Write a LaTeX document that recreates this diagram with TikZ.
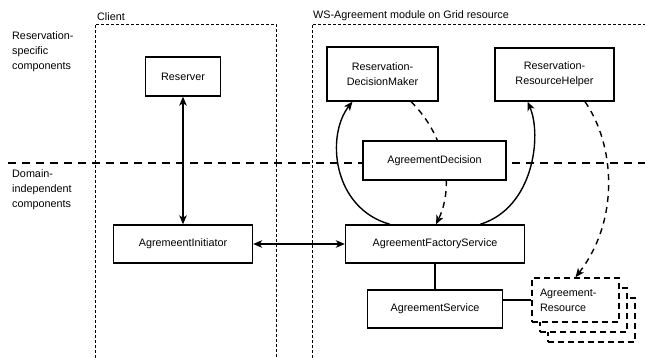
\documentclass[tikz,border=0pt]{standalone}
\usepackage{fontspec}
\setmainfont{Liberation Sans}
\usetikzlibrary{arrows.meta}

\tikzset{
  >={Stealth[length=9pt,width=7.5pt,inset=2.5pt]},
  txt/.style={inner sep=2pt, align=left, font=\fontsize{10.8}{15}\selectfont},
  comp/.style={draw, line width=1.3pt, fill=white, inner sep=2pt, align=center,
    font=\fontsize{10.8}{15}\selectfont},
  region/.style={line width=0.8pt, dash pattern=on 3pt off 2pt},
  layer/.style={line width=1.4pt, dash pattern=on 8pt off 6pt},
  link/.style={line width=1.4pt},
  dashlink/.style={line width=1.4pt, dash pattern=on 6pt off 5pt},
  resbox/.style={draw, line width=1.5pt, dash pattern=on 6pt off 4pt, fill=white,
    minimum width=87pt, minimum height=44pt, inner xsep=8pt, inner ysep=2pt,
    text width=71pt, align=left, font=\fontsize{10.8}{15}\selectfont},
}

\begin{document}
\begin{tikzpicture}[x=1pt,y=-1pt]
  \useasboundingbox (0,0) rectangle (645,358);

  % deployment regions and layer divider
  \draw[region] (95,358) -- (95,24) -- (276,24) -- (276,358);
  \draw[region] (312,358) -- (312,24) -- (650,24);
  \draw[layer] (8,163) -- (645,163);

  % region and layer labels
  \node[txt, anchor=west] (client) at (95,17) {Client};
  \node[txt, anchor=west] (wsmod) at (311,16) {WS-Agreement module on Grid resource};
  \node[txt, anchor=west] (lres) at (10,51.5) {Reservation-\\specific\\components};
  \node[txt, anchor=west] (ldom) at (10,190) {Domain-\\independent\\components};

  % components
  \node[comp, minimum width=75pt, minimum height=39pt] (reserver) at (183,76.5) {Reserver};
  \node[comp, minimum width=139pt, minimum height=38pt] (init) at (183,244) {AgremeentInitiator};
  \node[comp, minimum width=111pt, minimum height=54pt] (rdm) at (382.5,74) {Reservation-\\DecisionMaker};
  \node[comp, minimum width=119pt, minimum height=53pt] (rrh) at (554.5,74.5) {Reservation-\\ResourceHelper};
  \node[comp, minimum width=179pt, minimum height=38pt] (fs) at (435,244) {AgreementFactoryService};
  \node[comp, minimum width=135pt, minimum height=38pt] (as) at (435,309) {AgreementService};

  % stacked agreement resources
  \node[resbox] (ar3) at (591.5,320) {};
  \node[resbox] (ar2) at (583.5,310) {};
  \node[resbox] (ar) at (575.5,300) {Agreement-\\Resource};

  % connectors
  \draw[link, <->] (reserver) -- (init);
  \draw[link, <->] (init) -- (fs);
  \draw[link] (fs) -- (as);
  \draw[link] (ar.west) -- (ar.west -| as.east);
  \draw[link, ->] ([xshift=-45pt]fs.north) .. controls (332,208) and (326,135) .. ([xshift=-30pt]rdm.south);
  \draw[link, ->] ([xshift=45pt]fs.north) .. controls (534,208) and (542,135) .. ([xshift=-27pt]rrh.south);
  \draw[dashlink, ->] ([xshift=28.5pt]rdm.south) .. controls (445,135) and (455,185) .. ([xshift=1pt]fs.north);
  \draw[dashlink, ->] ([xshift=30.5pt]rrh.south) .. controls (615,145) and (620,220) .. (ar.north);

  % decision component sits over the decision flow
  \node[comp, minimum width=143pt, minimum height=39pt] (ad) at (434.5,160.5) {AgreementDecision};
\end{tikzpicture}
\end{document}
